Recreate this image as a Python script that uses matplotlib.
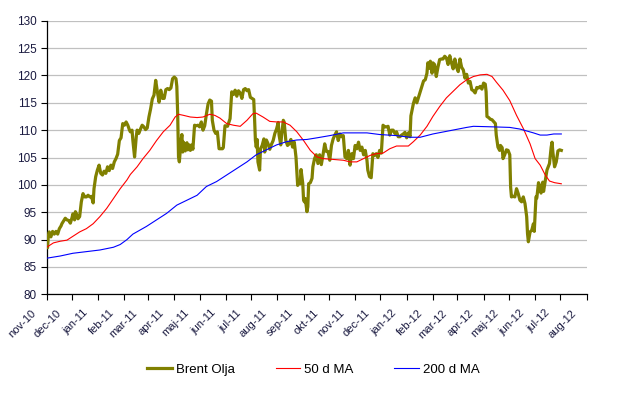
import numpy as np
import pandas as pd
import matplotlib
matplotlib.use("Agg")
import matplotlib.pyplot as plt
import matplotlib.transforms as mtransforms

plt.rcParams['font.family'] = ['Liberation Sans', 'DejaVu Sans']

# dagar efter 2010-11-01
start = pd.Timestamp('2010-11-01')

brent_days = [0, 1, 2, 3, 5, 7, 9, 11, 13, 15, 17, 18, 20, 22, 24, 26, 28, 30, 31, 33,
              34, 35, 37, 39, 41, 43, 45, 47, 49, 51, 53, 55, 56, 58, 60, 62, 64, 66, 68, 70,
              72, 74, 76, 78, 80, 82, 84, 86, 88, 90, 92, 94, 96, 98, 99, 101, 102, 104, 106, 107,
              109, 111, 113, 115, 117, 119, 121, 123, 125, 127, 129, 131, 133, 135, 137, 139, 141, 143, 145, 147,
              149, 151, 153, 154, 155, 156, 157, 159, 160, 161, 162, 164, 166, 167, 169, 170, 172, 173, 175, 177,
              179, 181, 183, 185, 187, 189, 191, 193, 195, 196, 198, 200, 202, 204, 206, 208, 209, 211, 214, 216,
              217, 219, 221, 223, 225, 227, 229, 231, 233, 235, 237, 239, 241, 243, 245, 246, 247, 248, 249, 250,
              252, 253, 255, 257, 258, 260, 262, 264, 266, 268, 270, 272, 274, 275, 277, 278, 280, 281, 283, 285,
              287, 289, 291, 293, 295, 297, 298, 300, 301, 303, 304, 305, 306, 308, 309, 310, 312, 314, 315, 317,
              319, 321, 323, 325, 327, 329, 331, 333, 335, 337, 339, 341, 343, 345, 347, 349, 351, 353, 355, 357,
              359, 361, 363, 365, 367, 369, 371, 373, 375, 377, 379, 380, 382, 384, 386, 388, 390, 392, 394, 396,
              398, 400, 402, 404, 406, 408, 410, 412, 414, 416, 418, 420, 422, 424, 426, 428, 430, 431, 434, 436,
              438, 440, 442, 444, 446, 448, 450, 451, 453, 454, 456, 457, 459, 461, 463, 465, 467, 469, 471, 473,
              475, 477, 479, 481, 483, 485, 487, 489, 491, 493, 495, 497, 499, 501, 503, 505, 507, 509, 511, 513,
              515, 517, 519, 520, 521, 523, 525, 527, 531, 532, 534, 536, 537, 539, 540, 542, 544, 546, 548, 549,
              550, 552, 554, 556, 558, 560, 562, 564, 566, 568, 569, 570, 572, 574, 576, 577, 579, 580, 582, 584,
              585, 587, 588, 590, 592, 595, 597, 598, 599, 601, 603, 605, 607, 609]
brent_vals = [89.3, 88.5, 90.8, 91.4, 90.5, 91.5, 91.0, 91.5, 91.0, 92.0, 92.5, 92.9, 93.4, 93.9, 93.6, 93.5, 93.0, 94.0, 94.7, 93.6,
              95.1, 94.8, 93.8, 94.2, 96.9, 98.4, 97.8, 97.8, 98.1, 97.8, 97.9, 96.7, 99.3, 101.5, 102.7, 103.6, 102.1, 101.8, 102.5, 102.1,
              103.3, 102.6, 103.6, 103.0, 104.2, 104.8, 105.6, 108.1, 108.6, 111.2, 110.9, 111.5, 110.9, 110.0, 109.7, 110.0, 108.1, 105.1, 108.8, 110.0,
              109.4, 110.2, 110.9, 110.6, 110.1, 110.4, 112.4, 113.9, 115.7, 116.4, 119.1, 117.0, 115.1, 117.3, 115.8, 115.8, 117.4, 117.6, 117.4, 117.7,
              119.4, 119.7, 119.4, 118.0, 113.0, 105.1, 104.2, 108.1, 109.2, 106.0, 107.8, 106.2, 107.7, 106.4, 107.3, 106.3, 107.3, 106.5, 110.9, 110.8,
              110.9, 110.6, 111.5, 110.0, 110.8, 112.9, 114.8, 115.5, 115.3, 111.8, 110.0, 109.4, 109.7, 106.6, 106.6, 106.6, 106.8, 110.8, 110.7, 111.6,
              112.1, 117.0, 116.5, 117.3, 116.2, 117.2, 116.8, 115.8, 117.4, 117.6, 117.2, 117.4, 116.0, 115.8, 115.6, 112.1, 108.1, 106.9, 108.3, 104.2,
              102.7, 106.6, 107.2, 108.4, 106.0, 108.2, 107.5, 106.5, 107.4, 108.1, 109.4, 110.2, 111.4, 109.1, 107.3, 109.1, 111.8, 111.5, 108.1, 107.2,
              107.5, 108.3, 106.9, 107.8, 105.1, 99.9, 100.5, 100.2, 102.8, 100.3, 97.2, 96.9, 97.5, 95.1, 96.0, 100.2, 100.4, 101.2, 103.3, 104.8,
              105.5, 103.9, 105.5, 103.7, 105.5, 107.5, 106.1, 106.1, 104.5, 107.2, 108.4, 109.1, 109.7, 108.1, 109.3, 108.8, 109.0, 105.1, 104.8, 106.3,
              103.6, 105.7, 104.8, 107.2, 106.6, 107.8, 106.3, 106.9, 105.5, 106.3, 104.5, 102.7, 101.5, 101.3, 105.7, 105.4, 105.7, 105.0, 106.3, 105.8,
              110.9, 110.6, 110.6, 110.7, 109.1, 110.0, 110.0, 109.4, 109.7, 108.8, 108.8, 109.1, 109.3, 109.6, 108.6, 109.5, 108.8, 112.6, 114.9, 115.9,
              115.0, 116.0, 117.0, 118.0, 119.0, 119.2, 120.4, 122.3, 121.3, 122.6, 120.4, 122.3, 122.0, 119.8, 121.5, 122.9, 123.0, 123.0, 123.5, 123.2,
              122.0, 123.6, 122.3, 121.2, 123.0, 121.5, 120.7, 123.0, 121.5, 121.0, 119.5, 120.2, 118.6, 118.9, 117.4, 117.2, 116.8, 117.8, 117.7, 118.0,
              117.5, 118.6, 118.4, 117.0, 112.5, 112.3, 112.0, 111.9, 111.2, 109.1, 106.9, 106.3, 107.2, 106.8, 104.8, 105.5, 106.4, 106.3, 105.5, 99.6,
              97.8, 97.9, 97.8, 99.3, 98.4, 97.2, 96.9, 97.8, 96.6, 94.2, 91.1, 89.6, 91.4, 91.7, 92.9, 91.5, 97.8, 97.6, 100.4, 99.5,
              98.5, 100.5, 98.8, 100.8, 102.7, 103.9, 106.9, 107.8, 106.0, 103.3, 104.2, 106.2, 106.4, 106.3]

ma50_days = [0, 8, 16, 24, 31, 39, 47, 55, 63, 71, 79, 87, 95, 99, 107, 114, 122, 130, 138, 146,
             152, 156, 162, 170, 178, 185, 193, 199, 205, 213, 221, 229, 237, 244, 248, 256, 264, 272, 280, 288,
             296, 304, 312, 320, 327, 335, 343, 351, 359, 367, 375, 383, 390, 398, 406, 414, 428, 434, 442, 450,
             457, 465, 473, 481, 489, 497, 505, 513, 521, 527, 532, 540, 548, 556, 564, 572, 578, 584, 590, 595,
             601, 609]
ma50_vals = [88.6, 89.4, 89.7, 89.9, 90.6, 91.4, 92.0, 92.9, 94.2, 95.7, 97.5, 99.3, 100.9, 101.9, 103.3, 104.8, 106.3, 108.1, 109.7, 110.9,
             112.4, 112.9, 112.7, 112.4, 112.3, 112.4, 112.9, 112.7, 112.2, 111.2, 110.9, 110.7, 111.8, 113.0, 113.1, 112.4, 111.6, 111.5, 111.5, 110.9,
             109.7, 108.1, 106.3, 105.1, 104.8, 104.7, 104.6, 104.5, 104.2, 104.2, 104.8, 105.4, 105.7, 105.8, 106.6, 107.1, 107.1, 107.9, 109.1, 110.7,
             112.5, 114.3, 115.9, 117.1, 118.3, 119.2, 119.8, 120.1, 120.2, 119.8, 118.8, 117.3, 115.4, 112.7, 110.3, 107.5, 104.8, 103.6, 101.8, 100.7,
             100.4, 100.2]

ma200_days = [0, 16, 31, 47, 63, 79, 87, 95, 102, 118, 130, 142, 154, 166, 178, 189, 201, 213, 225, 237,
              248, 260, 272, 284, 296, 308, 320, 335, 351, 379, 394, 414, 430, 442, 457, 477, 497, 505, 528, 548,
              560, 576, 584, 592, 600, 609]
ma200_vals = [86.6, 87.0, 87.5, 87.8, 88.1, 88.6, 89.1, 90.0, 91.0, 92.4, 93.6, 94.8, 96.3, 97.2, 98.1, 99.7, 100.6, 101.8, 103.0, 104.2,
              105.5, 106.4, 107.3, 107.9, 108.2, 108.3, 108.6, 109.0, 109.5, 109.5, 109.2, 109.0, 108.7, 108.7, 109.3, 109.9, 110.5, 110.7, 110.6, 110.5,
              110.2, 109.5, 109.1, 109.1, 109.3, 109.3]

month_labels = ['nov-10', 'dec-10', 'jan-11', 'feb-11', 'mar-11', 'apr-11', 'maj-11', 'jun-11',
                'jul-11', 'aug-11', 'sep-11', 'okt-11', 'nov-11', 'dec-11', 'jan-12', 'feb-12',
                'mar-12', 'apr-12', 'maj-12', 'jun-12', 'jul-12', 'aug-12']


def to_dates(days):
    return start + pd.to_timedelta(days, unit='D')


fig = plt.figure(figsize=(6.43, 3.95), dpi=100)
ax = fig.add_axes([0.0726, 0.2549, 0.8398, 0.6927])

ax.plot(to_dates(brent_days), brent_vals, color='#808000', lw=2.3, label='Brent Olja', zorder=3)
ax.plot(to_dates(ma50_days), ma50_vals, color='#ff0000', lw=0.8, label='50 d MA', zorder=4)
ax.plot(to_dates(ma200_days), ma200_vals, color='#0000ff', lw=0.8, label='200 d MA', zorder=4)

month_ticks = pd.date_range(start, periods=len(month_labels), freq='MS')
ax.set_xlim(month_ticks[0], month_ticks[-1])
ax.set_xticks(month_ticks)
ax.set_xticklabels([])
# Excel-lika etiketter: lite till vänster och nedanför strecket
offset = mtransforms.ScaledTranslation(-12 / 100, -17 / 100, fig.dpi_scale_trans)
for d, lab in zip(month_ticks, month_labels):
    ax.text(d, 0, lab, transform=ax.get_xaxis_transform() + offset, rotation=45,
            ha='right', va='center', rotation_mode='anchor', fontsize=8, color='#1a1a40')

ax.set_ylim(80, 130)
ax.set_yticks(range(80, 131, 5))
ax.tick_params(axis='y', labelsize=8.5, labelcolor='#1a1a40', direction='out', length=4, width=0.8, pad=3)
ax.tick_params(axis='x', direction='out', length=4, width=0.8, pad=0)

ax.grid(axis='y', color='#c0c0c0', lw=0.9)
ax.set_axisbelow(True)
for s in ['top', 'right']:
    ax.spines[s].set_visible(False)
for s in ['left', 'bottom']:
    ax.spines[s].set_linewidth(0.9)

ax.legend(loc='center', bbox_to_anchor=(0.494, -0.275), ncol=3, frameon=False, fontsize=9.5,
          handlelength=1.85, handletextpad=0.3, columnspacing=3.1)

plt.savefig('out.png', dpi=100)
